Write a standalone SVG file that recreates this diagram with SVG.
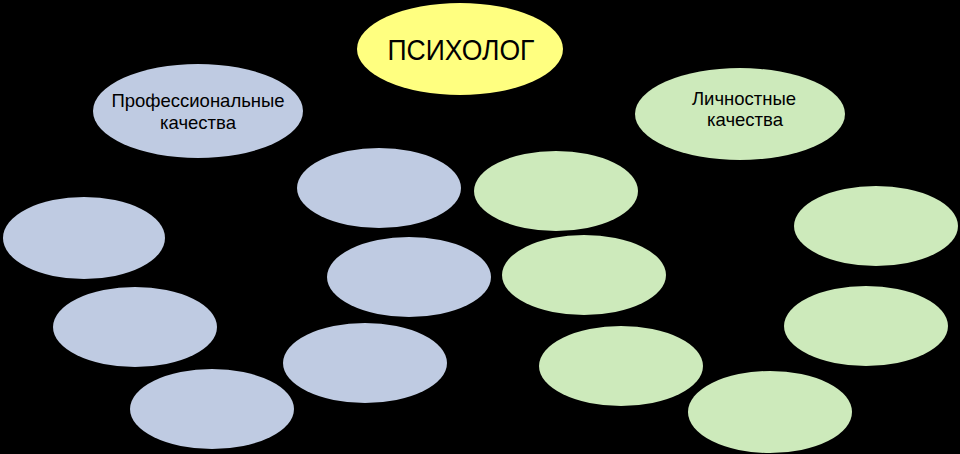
<svg xmlns="http://www.w3.org/2000/svg" width="960" height="454" viewBox="0 0 960 454">
<style>
.b{fill:#bfcbe2}
.g{fill:#cdeabb}
.y{fill:#ffff80}
text{font-family:"Liberation Sans",Arial,sans-serif;fill:#000;text-anchor:middle}
.t{font-size:18.5px}
.h{font-size:30px}
</style>
<rect width="960" height="454" fill="#000"/>
<g id="psycholog"><ellipse class="y" cx="460" cy="49" rx="103" ry="46"/><text class="h" x="461" y="60" textLength="147" lengthAdjust="spacingAndGlyphs">ПСИХОЛОГ</text></g>
<g id="prof"><ellipse class="b" cx="198" cy="111" rx="105" ry="47"/><text class="t" x="198" y="107">Профессиональные</text><text class="t" x="198" y="129">качества</text></g>
<g id="lich"><ellipse class="g" cx="740" cy="114" rx="105" ry="46"/><text class="t" x="744" y="105">Личностные</text><text class="t" x="745" y="126">качества</text></g>
<g id="b1"><ellipse class="b" cx="84" cy="238" rx="81" ry="41"/></g>
<g id="b2"><ellipse class="b" cx="135" cy="327" rx="82" ry="40"/></g>
<g id="b3"><ellipse class="b" cx="212" cy="409" rx="82" ry="40"/></g>
<g id="b4"><ellipse class="b" cx="379" cy="188" rx="82" ry="40"/></g>
<g id="b5"><ellipse class="b" cx="409" cy="277" rx="82" ry="40"/></g>
<g id="b6"><ellipse class="b" cx="365" cy="363" rx="82" ry="40"/></g>
<g id="g1"><ellipse class="g" cx="556" cy="191" rx="82" ry="40"/></g>
<g id="g2"><ellipse class="g" cx="584" cy="275" rx="82" ry="40"/></g>
<g id="g3"><ellipse class="g" cx="621" cy="366" rx="82" ry="40"/></g>
<g id="g4"><ellipse class="g" cx="876" cy="226" rx="82" ry="40"/></g>
<g id="g5"><ellipse class="g" cx="866" cy="326" rx="82" ry="40"/></g>
<g id="g6"><ellipse class="g" cx="770" cy="412" rx="82" ry="41"/></g>
<g id="connectors"/>
</svg>
